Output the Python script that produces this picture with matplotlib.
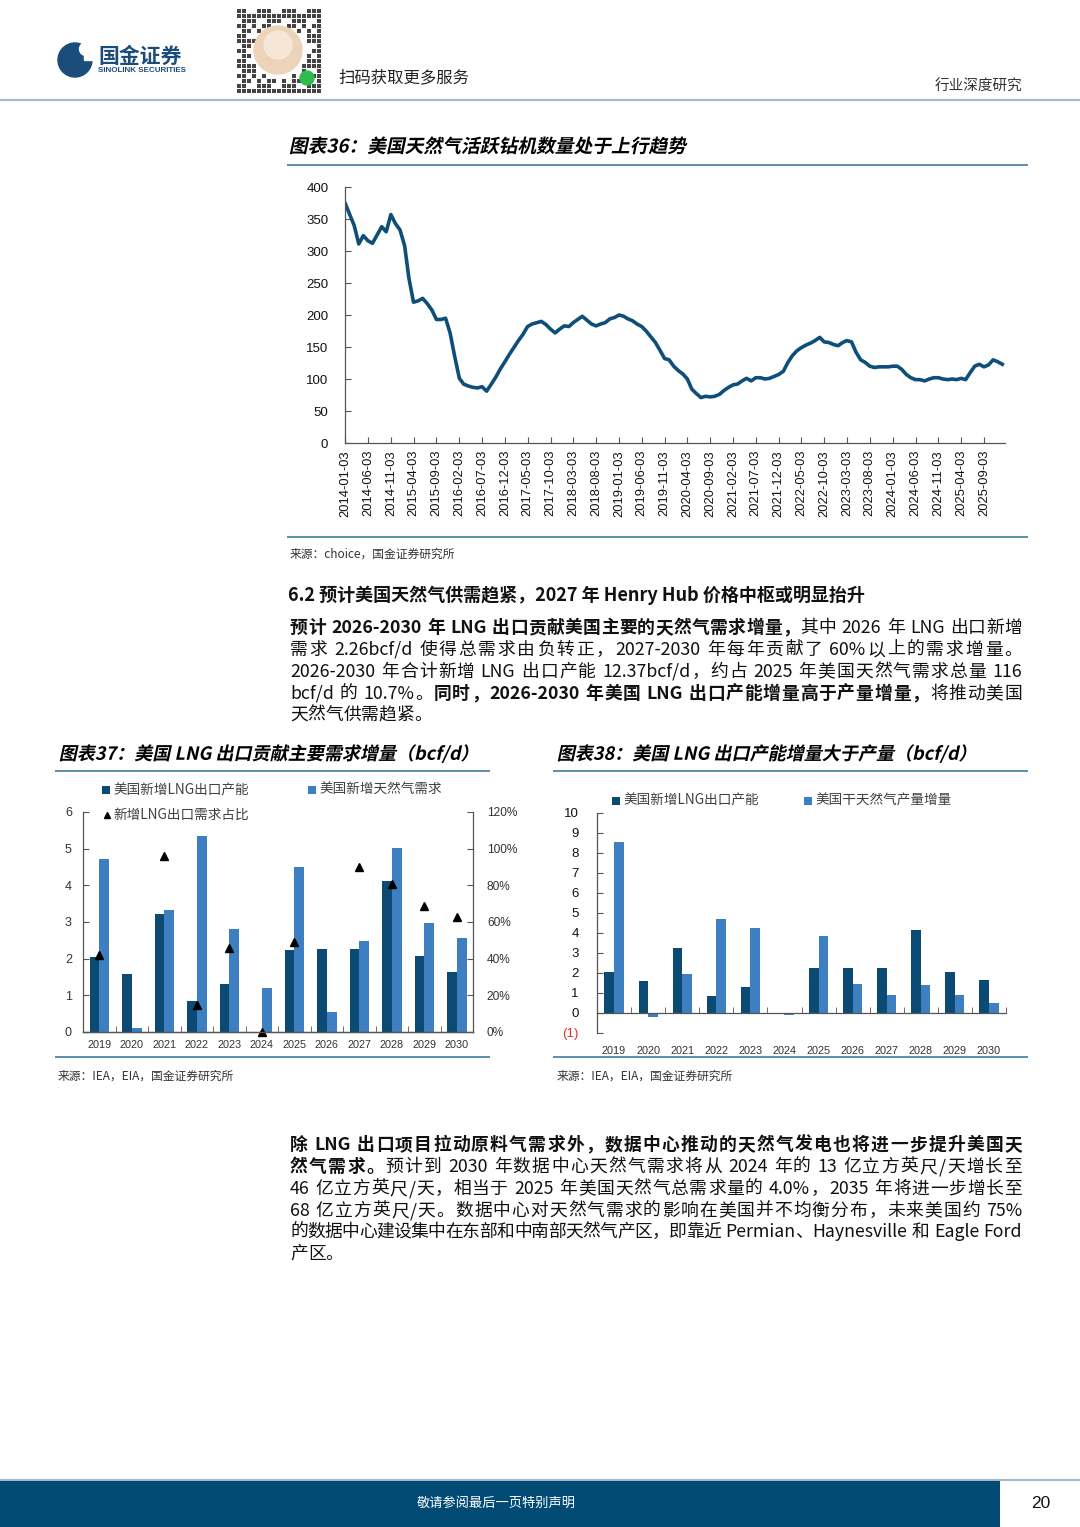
import re
import numpy as np
import pandas as pd
import matplotlib
matplotlib.use('Agg')
import matplotlib.pyplot as plt
import matplotlib.dates as mdates
from matplotlib.patches import Rectangle, Circle
from matplotlib.patheffects import AbstractPathEffect
from matplotlib.transforms import Affine2D

plt.rcParams['font.family'] = ['Noto Sans CJK SC', 'DejaVu Sans']
plt.rcParams['axes.unicode_minus'] = False

# ---- data ----
# 图表36 美国天然气活跃钻机数量（月度读数，2014-01 起）
rigs = [374, 356, 340, 311, 324, 316, 312, 325, 338, 330, 357, 343,
        333, 308, 258, 220, 222, 226, 218, 208, 193, 193, 195, 172,
        135, 101, 92, 89, 87, 86, 88, 81, 92, 103, 116, 127,
        139, 150, 160, 170, 182, 186, 188, 190, 185, 178, 172, 178,
        183, 182, 188, 193, 198, 192, 186, 183, 186, 188, 194, 196,
        200, 198, 194, 191, 186, 182, 175, 166, 157, 145, 132, 130,
        120, 113, 108, 100, 84, 77, 71, 73, 72, 73, 76, 82,
        87, 91, 92, 97, 101, 97, 102, 102, 100, 101, 104, 107,
        112, 126, 136, 144, 149, 153, 156, 160, 165, 158, 157, 154,
        152, 157, 160, 158, 142, 130, 126, 120, 118, 119, 119, 119,
        120, 120, 115, 107, 102, 99, 99, 97, 100, 102, 102, 100,
        99, 100, 99, 101, 99, 110, 120, 123, 119, 122, 130, 127,
        123]
rig_dates = pd.date_range('2014-01-03', periods=len(rigs), freq=pd.DateOffset(months=1))
tick_dates = pd.date_range('2014-01-03', periods=29, freq=pd.DateOffset(months=5))

# 图表37 / 38
years = ['2019', '2020', '2021', '2022', '2023', '2024',
         '2025', '2026', '2027', '2028', '2029', '2030']
lng_cap = [2.04, 1.58, 3.23, 0.85, 1.32, 0.0, 2.25, 2.26, 2.27, 4.13, 2.07, 1.64]
gas_demand = [4.73, 0.11, 3.33, 5.34, 2.80, 1.20, 4.51, 0.55, 2.48, 5.03, 2.98, 2.57]
lng_share = [0.42, np.nan, 0.96, 0.15, 0.46, 0.0, 0.49, np.nan, 0.90, 0.81, 0.69, 0.63]
dry_gas = [8.55, -0.20, 1.96, 4.70, 4.24, -0.08, 3.87, 1.46, 0.88, 1.38, 0.88, 0.50]

DARK = '#0b4a72'
LIGHT = '#3d7fc1'
RULE = '#2f6f93'
W, H = 1080, 1527

fig = plt.figure(figsize=(W / 100, H / 100), dpi=100)
page = fig.add_axes([0, 0, 1, 1])
page.set_xlim(0, W)
page.set_ylim(H, 0)
page.axis('off')


def px(x0, y0, x1, y1):
    return [x0 / W, 1 - y1 / H, (x1 - x0) / W, (y1 - y0) / H]


class Oblique(AbstractPathEffect):
    def __init__(self, yc, ang=12):
        super().__init__()
        self.yc = yc
        self.ang = ang

    def draw_path(self, renderer, gc, tpath, affine, rgbFace=None):
        sk = Affine2D().translate(0, -self.yc).skew_deg(self.ang, 0).translate(0, self.yc)
        renderer.draw_path(gc, tpath, affine + sk, rgbFace)


def title(x, y, s, size=13.5):
    page.text(x, y, s, fontsize=size, fontweight='bold', va='center', ha='left',
              path_effects=[Oblique(H - y)])


def rule(x0, x1, y, color=RULE, lw=1.1):
    page.plot([x0, x1], [y, y], color=color, lw=lw, solid_capstyle='butt')


renderer = fig.canvas.get_renderer()


def line(y, parts, size=12.8, justify=True, x0=290, x1=1022):
    toks = []
    pending = 0
    for s, b in parts:
        for m in re.finditer(r'\s+|[A-Za-z0-9.\-/%]+|.', s):
            t = m.group()
            if t.isspace():
                pending += len(t)
                continue
            toks.append((t, b, pending))
            pending = 0
    texts = [page.text(0, y, t, fontsize=size, fontweight='bold' if b else 'normal',
                       va='center', ha='left', color='#111111') for t, b, _ in toks]
    widths = [tx.get_window_extent(renderer).width for tx in texts]
    sw = size * 100 / 72 * 0.28
    base = sum(widths) + sum(sp for _, _, sp in toks[1:]) * sw
    extra = (x1 - x0 - base) / max(len(toks) - 1, 1) if justify else 0
    x = x0
    for i, (tx, w, tok) in enumerate(zip(texts, widths, toks)):
        if i > 0:
            x += tok[2] * sw + extra
        tx.set_position((x, y))
        x += w


def clear_bg(a):
    a.patch.set_alpha(0)


# ---- header ----
page.add_patch(Circle((75, 60), 17, color='#1b4d7a'))
page.add_patch(Circle((86, 49), 6.5, color='white'))
page.add_patch(Rectangle((84, 52), 10, 8, color='white'))
page.text(98, 56, '国金证券', fontsize=15, fontweight='bold', color='#1b4d7a', va='center')
page.text(98, 71, 'SINOLINK SECURITIES', fontsize=5.8, fontweight='bold', color='#1b4d7a',
          va='center', family=['Liberation Sans', 'DejaVu Sans'])
# QR placeholder
for i in range(17):
    for j in range(17):
        cx, cy = 237 + i * 5, 9 + j * 5
        if (cx - 278) ** 2 + (cy - 50) ** 2 < 27 ** 2:
            continue
        if (i * i + 3 * i * j + 2 * j) % 5 < 3:
            page.add_patch(Rectangle((cx, cy), 3.5, 3.5, color='#444444', lw=0))
page.add_patch(Circle((278, 50), 24, color='#ecd3b9'))
page.add_patch(Circle((278, 45), 14, color='#f5e6d6'))
page.add_patch(Circle((307, 78), 7, color='#2dbb4e'))
page.text(338, 78, '扫码获取更多服务', fontsize=11.8, color='#222222', va='center')
page.text(1022, 87, '行业深度研究', fontsize=10.5, color='#333333', va='center', ha='right')
rule(0, W, 100, color='#a9bccb', lw=1.6)

# ---- chart 36 ----
title(290, 147, '图表36：美国天然气活跃钻机数量处于上行趋势')
rule(287, 1028, 165)
rule(287, 1028, 537)
page.text(290, 554, '来源：choice，国金证券研究所', fontsize=8.5, color='#333333', va='center')

ax = fig.add_axes(px(345, 187, 1005, 443))
clear_bg(ax)
ax.plot(rig_dates, rigs, color='#0d4f79', lw=2.6, solid_joinstyle='round')
ax.set_ylim(0, 400)
ax.set_yticks(range(0, 401, 50))
ax.set_xlim(rig_dates[0] - pd.Timedelta(days=2), rig_dates[-1] + pd.Timedelta(days=18))
ax.set_xticks(tick_dates)
ax.xaxis.set_major_formatter(mdates.DateFormatter('%Y-%m-%d'))
for sp in ['top', 'right']:
    ax.spines[sp].set_visible(False)
for sp in ['left', 'bottom']:
    ax.spines[sp].set_color('#555555')
    ax.spines[sp].set_linewidth(0.9)
ax.tick_params(axis='y', direction='in', length=4, pad=12, labelsize=9.5, color='#555555')
ax.tick_params(axis='x', direction='in', length=4, pad=5, labelsize=9.3, color='#555555',
               labelrotation=90)
for lb in ax.get_xticklabels() + ax.get_yticklabels():
    lb.set_family(['Liberation Sans', 'DejaVu Sans'])
    lb.set_color('#111111')

# ---- section text ----
page.text(288, 595, '6.2 预计美国天然气供需趋紧，2027 年 Henry Hub 价格中枢或明显抬升',
          fontsize=13, fontweight='bold', va='center', color='#111111')
line(628, [('预计 2026-2030 年 LNG 出口贡献美国主要的天然气需求增量，', True),
           ('其中 2026 年 LNG 出口新增', False)])
line(650, [('需求 2.26bcf/d 使得总需求由负转正，2027-2030 年每年贡献了 60%以上的需求增量。', False)])
line(672, [('2026-2030 年合计新增 LNG 出口产能 12.37bcf/d，约占 2025 年美国天然气需求总量 116', False)])
line(694, [('bcf/d 的 10.7%。', False), ('同时，2026-2030 年美国 LNG 出口产能增量高于产量增量，', True),
           ('将推动美国', False)])
line(715, [('天然气供需趋紧。', False)], justify=False)

# ---- chart 37 ----
title(60, 754, '图表37：美国 LNG 出口贡献主要需求增量（bcf/d）', size=13)
rule(55, 490, 771)
rule(55, 490, 1057)
page.text(58, 1076, '来源：IEA，EIA，国金证券研究所', fontsize=8.5, color='#333333', va='center')

x = np.arange(len(years))
bw = 0.3
ax2 = fig.add_axes(px(83, 812, 473, 1032))
clear_bg(ax2)
ax2.bar(x - bw / 2, lng_cap, bw, color=DARK)
ax2.bar(x + bw / 2, gas_demand, bw, color=LIGHT)
ax2.set_xlim(-0.5, len(years) - 0.5)
ax2.set_ylim(0, 6)
ax2.set_yticks(range(0, 7))
ax2.set_xticks(x)
ax2.set_xticklabels(years)
ax2.set_xticks(np.arange(-0.5, len(years)), minor=True)
ax2r = ax2.twinx()
clear_bg(ax2r)
ax2r.plot(x, lng_share, linestyle='none', marker='^', color='black', ms=6, clip_on=False)
ax2r.set_ylim(0, 1.2)
ax2r.set_yticks(np.arange(0, 1.21, 0.2))
ax2r.set_yticklabels([f'{int(round(v * 100))}%' for v in np.arange(0, 1.21, 0.2)])
for a in (ax2, ax2r):
    a.spines['top'].set_visible(False)
    for sp in ['left', 'right', 'bottom']:
        a.spines[sp].set_color('#555555')
        a.spines[sp].set_linewidth(0.9)
ax2.spines['right'].set_visible(False)
ax2r.spines['left'].set_visible(False)
ax2.tick_params(axis='y', direction='in', length=4, pad=8, labelsize=9, color='#555555')
ax2.tick_params(axis='x', which='major', length=0, pad=6, labelsize=7.8)
ax2.tick_params(axis='x', which='minor', direction='in', length=4, color='#555555')
ax2r.tick_params(axis='y', direction='in', length=4, pad=10, labelsize=8.6, color='#555555')
for lb in ax2.get_xticklabels() + ax2.get_yticklabels() + ax2r.get_yticklabels():
    lb.set_family(['Liberation Sans', 'DejaVu Sans'])
    lb.set_color('#333333')

# legend of chart 37 (drawn on a top layer so the axes never hide it)
leg = fig.add_axes([0, 0, 1, 1], zorder=10)
leg.set_xlim(0, W)
leg.set_ylim(H, 0)
leg.axis('off')
leg.add_patch(Rectangle((102, 786), 8, 8, color=DARK, lw=0))
leg.text(113, 790, '美国新增LNG出口产能', fontsize=9.8, color='#404040', va='center')
leg.add_patch(Rectangle((308, 786), 8, 8, color=LIGHT, lw=0))
leg.text(319, 790, '美国新增天然气需求', fontsize=9.8, color='#404040', va='center')
leg.plot([107], [815], marker='^', color='black', ms=4.5)
leg.text(113, 815, '新增LNG出口需求占比', fontsize=9.8, color='#404040', va='center')

# ---- chart 38 ----
title(558, 754, '图表38：美国 LNG 出口产能增量大于产量（bcf/d）', size=13)
rule(553, 1028, 771)
rule(553, 1028, 1057)
page.text(557, 1076, '来源：IEA，EIA，国金证券研究所', fontsize=8.5, color='#333333', va='center')
leg.add_patch(Rectangle((612, 797), 8, 8, color=DARK, lw=0))
leg.text(623, 801, '美国新增LNG出口产能', fontsize=9.8, color='#404040', va='center')
leg.add_patch(Rectangle((804, 797), 8, 8, color=LIGHT, lw=0))
leg.text(815, 801, '美国干天然气产量增量', fontsize=9.8, color='#404040', va='center')

bw3 = 0.28
ax3 = fig.add_axes(px(597, 813, 1006, 1033))
clear_bg(ax3)
ax3.bar(x - bw3 / 2, lng_cap, bw3, color=DARK)
ax3.bar(x + bw3 / 2, dry_gas, bw3, color=LIGHT)
ax3.set_xlim(-0.5, len(years) - 0.5)
ax3.set_ylim(-1, 10)
ax3.set_yticks(range(-1, 11))
ax3.set_yticklabels(['(1)'] + [str(v) for v in range(0, 11)])
ax3.spines['top'].set_visible(False)
ax3.spines['right'].set_visible(False)
ax3.spines['bottom'].set_position(('data', 0))
for sp in ['left', 'bottom']:
    ax3.spines[sp].set_color('#555555')
    ax3.spines[sp].set_linewidth(0.9)
ax3.set_xticks(x)
ax3.set_xticklabels([])
ax3.set_xticks(np.arange(-0.5, len(years)), minor=True)
ax3.tick_params(axis='x', which='major', length=0)
ax3.tick_params(axis='x', which='minor', direction='in', length=4, color='#555555')
ax3.tick_params(axis='y', direction='in', length=4, pad=13, labelsize=9.5, color='#555555')
for i, yr in enumerate(years):
    ax3.text(i, -0.06, yr, transform=ax3.get_xaxis_transform(), ha='center', va='top',
             fontsize=7.8, color='#333333', family=['Liberation Sans', 'DejaVu Sans'])
for i, lb in enumerate(ax3.get_yticklabels()):
    lb.set_family(['Liberation Sans', 'DejaVu Sans'])
    lb.set_color('#e03030' if i == 0 else '#111111')

# ---- second paragraph ----
line(1145, [('除 LNG 出口项目拉动原料气需求外，数据中心推动的天然气发电也将进一步提升美国天', True)])
line(1167, [('然气需求。', True), ('预计到 2030 年数据中心天然气需求将从 2024 年的 13 亿立方英尺/天增长至', False)])
line(1189, [('46 亿立方英尺/天，相当于 2025 年美国天然气总需求量的 4.0%，2035 年将进一步增长至', False)])
line(1211, [('68 亿立方英尺/天。数据中心对天然气需求的影响在美国并不均衡分布，未来美国约 75%', False)])
line(1232, [('的数据中心建设集中在东部和中南部天然气产区，即靠近 Permian、Haynesville 和 Eagle Ford', False)])
line(1254, [('产区。', False)], justify=False)

# ---- footer ----
rule(0, W, 1480, color='#8faabd', lw=1.2)
page.add_patch(Rectangle((0, 1481), 1000, 46, color='#004a73', lw=0))
page.text(496, 1503, '敬请参阅最后一页特别声明', fontsize=9.5, color='white', ha='center', va='center')
page.text(1041, 1503, '20', fontsize=12.5, color='#111111', ha='center', va='center',
          family=['Liberation Sans', 'DejaVu Sans'])

fig.savefig('out.png', dpi=100)
